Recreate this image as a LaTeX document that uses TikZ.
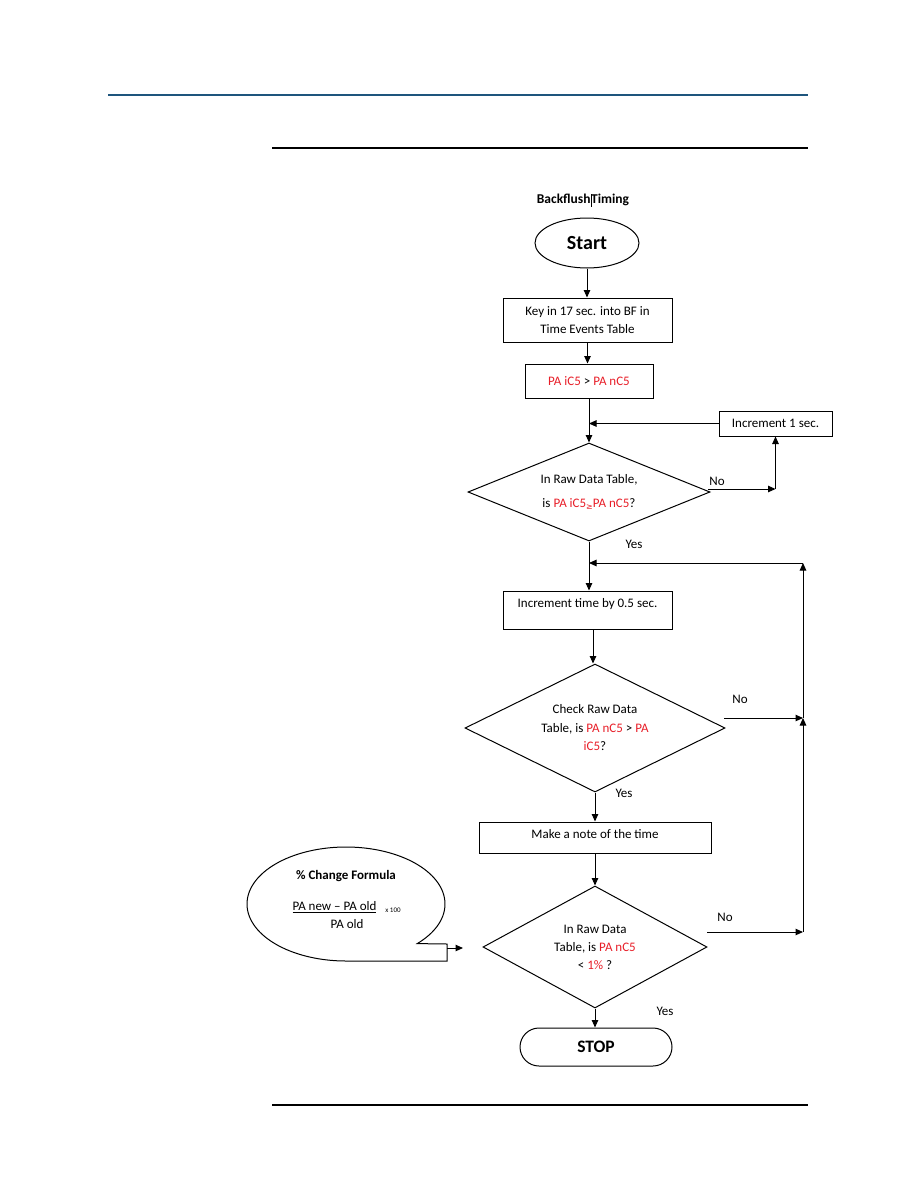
\documentclass[tikz,border=0pt]{standalone}
\usepackage{fontspec}
\setmainfont{Carlito}
\newfontfamily\djv{DejaVu Sans}
\usetikzlibrary{shapes.geometric,shapes.misc,arrows.meta}
\definecolor{pared}{RGB}{232,30,40}
\definecolor{hdrblue}{RGB}{30,85,125}
\newcommand\rd[1]{\textcolor{pared}{#1}}
\newcommand\fsn{\fontsize{13}{17.5}\selectfont}
\begin{document}
\begin{tikzpicture}[x=1pt,y=-1pt,line width=1pt,
  box/.style={draw,rectangle,inner sep=0pt,align=center,font=\fsn},
  dia/.style={draw,diamond,aspect=2,inner sep=0pt,align=center,font=\fsn},
  txt/.style={inner sep=0pt,align=center,font=\fsn},
  arr/.style={-{Triangle[length=7.5pt,width=6.5pt]}}]
\fill[white] (0,0) rectangle (918,1188);
\useasboundingbox (0,0) rectangle (918,1188);
% page rules
\draw[hdrblue,line width=1.4pt] (108,95) -- (808,95);
\draw[line width=1.2pt] (272,148) -- (808,148);
\draw[line width=1.2pt] (272,1105) -- (808,1105);
% title
\node[txt,font=\fontsize{13.5}{16}\selectfont\bfseries] (title) at (583,200) {Backflush\rule[-3pt]{0.6pt}{13pt}Timing};
% nodes
\node[draw,ellipse,minimum width=104pt,minimum height=50pt,inner sep=0pt,font=\fontsize{20}{22}\selectfont\bfseries] (start) at (587,243) {Start};
\node[box,minimum width=169pt,minimum height=44pt] (key) at (587.5,320) {Key in 17 sec. into BF in\\Time Events Table};
\node[box,minimum width=128pt,minimum height=34pt] (pa) at (589,381) {\rd{PA iC5} > \rd{PA nC5}};
\node[box,minimum width=113pt,minimum height=25pt] (inc1) at (775.5,423.5) {Increment 1 sec.};
\node[dia,minimum width=242pt,minimum height=98pt] (d1) at (589,492) {In Raw Data Table,\\[6pt] is \rd{PA iC5}{\djv\rd{\raisebox{-2.5pt}{\fontsize{8}{8}\selectfont ≥}}}\rd{PA nC5}?};
\node[box,minimum width=169pt,minimum height=38pt] (box2) at (588,610) {};
\node[txt] (box2t) at (587.5,604) {Increment time by 0.5 sec.};
\node[dia,minimum width=260pt,minimum height=128pt,font=\fontsize{13}{18.5}\selectfont] (d2) at (595,728) {Check Raw Data\\Table, is \rd{PA nC5} > \rd{PA}\\\rd{iC5}?};
\node[box,minimum width=232pt,minimum height=31pt] (box3) at (595,837.5) {};
\node[txt] (box3t) at (595,834) {Make a note of the time};
\node[dia,minimum width=224pt,minimum height=122pt,font=\fontsize{13}{18}\selectfont] (d3) at (595,947) {In Raw Data\\Table, is \rd{PA nC5}\\< \rd{1\%} ?};
\node[draw,rounded rectangle,minimum width=152pt,minimum height=38pt,inner sep=0pt,font=\fontsize{17.5}{20}\selectfont\bfseries] (stop) at (596,1047) {STOP};
% labels
\node[txt] (no1) at (717,481) {No};
\node[txt] (yes1) at (634,544) {Yes};
\node[txt] (no2) at (740,699) {No};
\node[txt] (yes2) at (624,793) {Yes};
\node[txt] (no3) at (725,917) {No};
\node[txt] (yes3) at (665,1011) {Yes};
% coordinates
\coordinate (j1) at (pa.south |- inc1.west);
\coordinate (c1) at (inc1.south |- 0,489);
\coordinate (c2) at (803,718);
\coordinate (c3) at (803,932);
\coordinate (c4) at (803,563);
\coordinate (j2) at (d1.south |- c4);
\coordinate (m2) at (593,0);
% connectors
\draw[arr] (start.south) -- (start.south |- key.north);
\draw[arr] (key.south) -- (key.south |- pa.north);
\draw[arr] (pa.south) -- (pa.south |- d1.north);
\draw[arr] (inc1.west) -- (j1);
\draw[arr] (708,489) -- (c1);
\draw[arr] (c1) -- (inc1.south);
\draw[arr] (d1.south) -- (d1.south |- box2.north);
\draw[arr] (m2 |- box2.south) -- (m2 |- d2.north);
\draw[arr] (724,718) -- (c2);
\draw[arr] (707,932) -- (c3);
\draw[arr] (c3) -- (c2);
\draw[arr] (c2) -- (c4);
\draw[arr] (c4) -- (j2);
\draw[arr] (d2.south) -- (d2.south |- box3.north);
\draw[arr] (box3.south) -- (box3.south |- d3.north);
\draw[arr] (d3.south) -- (d3.south |- stop.north);
% callout bubble
\draw plot[domain=-44:270,samples=120,smooth] ({346+99*cos(\x)},{904-57*sin(\x)}) -- (447,961) -- (447,944) -- cycle;
\node[txt,font=\fontsize{13}{16}\selectfont\bfseries] (bt1) at (346,876) {\% Change Formula};
\node[txt] (bt2) at (334.5,907) {\underline{PA new – PA old}};
\node[txt,font=\fontsize{7}{8}\selectfont] (bt3) at (393,910) {x 100};
\node[txt] (bt4) at (347,924) {PA old};
\coordinate (ta) at (447,948);
\coordinate (tb) at (463,948);
\draw[arr] (ta) -- (tb);
\end{tikzpicture}
\end{document}
